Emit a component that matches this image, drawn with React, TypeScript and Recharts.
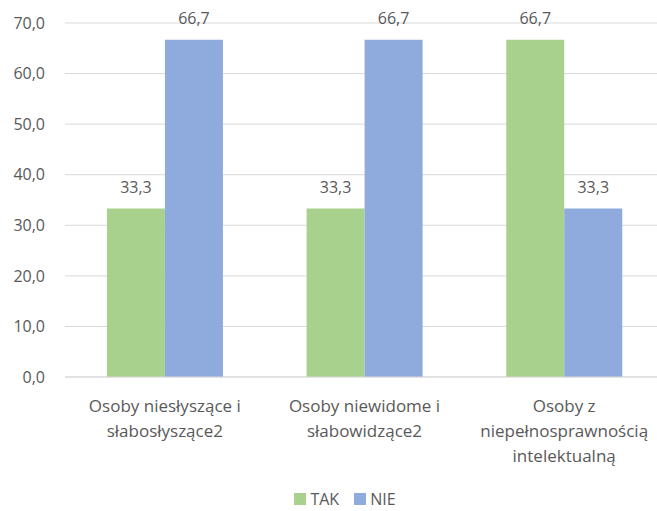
import React from "react";
import {
  BarChart,
  Bar,
  XAxis,
  YAxis,
  CartesianGrid,
  Legend,
  LabelList,
  Text,
} from "recharts";

const categories = [
  "Osoby niesłyszące i słabosłyszące2",
  "Osoby niewidome i słabowidzące2",
  "Osoby z niepełnosprawnością intelektualną",
];
const takValues = [33.3, 33.3, 66.7];
const nieValues = [66.7, 66.7, 33.3];
const yTicks = [0, 10, 20, 30, 40, 50, 60, 70];

const seriesNames = ["TAK", "NIE"];
const seriesColors = ["#a9d18e", "#8faadc"];

const data = categories.map((name, i) => ({
  name,
  TAK: takValues[i],
  NIE: nieValues[i],
}));

const FONT = "'Open Sans', 'Noto Sans', sans-serif";
const TEXT = "#595959";

const fmt = (v: number) => v.toFixed(1).replace(".", ",");

// wrapped category labels under the axis
const CategoryTick = ({ x, y, payload }: any) => (
  <Text
    x={x}
    y={y}
    width={190}
    textAnchor="middle"
    verticalAnchor="start"
    lineHeight={25}
    fill={TEXT}
    style={{ fontFamily: FONT, fontSize: 17 }}
  >
    {payload.value}
  </Text>
);

const LegendContent = () => (
  <div
    style={{
      display: "flex",
      justifyContent: "center",
      alignItems: "center",
      paddingLeft: 26,
      paddingBottom: 2,
      fontFamily: FONT,
      fontSize: 16,
      lineHeight: "20px",
      color: TEXT,
    }}
  >
    {seriesNames.map((s, i) => (
      <div key={s} style={{ display: "flex", alignItems: "center", marginRight: i === 0 ? 15 : 0 }}>
        <span
          style={{
            display: "inline-block",
            width: 12,
            height: 12,
            background: seriesColors[i],
            marginRight: 4,
          }}
        />
        <span>{s}</span>
      </div>
    ))}
  </div>
);

export default function App() {
  return (
    <div
      style={{
        position: "absolute",
        left: 0,
        top: 0,
        width: 657,
        height: 511,
        overflow: "hidden",
        background: "#fff",
      }}
    >
      <BarChart
        width={665}
        height={511}
        data={data}
        margin={{ top: 23, right: 1, left: 0, bottom: 0 }}
        barCategoryGap="21%"
        barGap={0}
      >
        <CartesianGrid vertical={false} stroke="#d9d9d9" />
        <XAxis
          dataKey="name"
          interval={0}
          tickLine={false}
          stroke="#d9d9d9"
          height={112}
          tickSize={0}
          tickMargin={23}
          tick={<CategoryTick />}
        />
        <YAxis
          width={65}
          domain={[0, 70]}
          ticks={yTicks}
          axisLine={false}
          tickLine={false}
          tickSize={0}
          tickMargin={20}
          tickFormatter={fmt}
          tick={{ fill: TEXT, fontSize: 16, fontFamily: FONT }}
        />
        <Legend
          verticalAlign="bottom"
          wrapperStyle={{ bottom: 0 }}
          content={<LegendContent />}
        />
        {seriesNames.map((s, i) => (
          <Bar key={s} dataKey={s} fill={seriesColors[i]} isAnimationActive={false}>
            <LabelList
              dataKey={s}
              position="top"
              offset={16}
              formatter={(v: any) => fmt(Number(v))}
              style={{ fill: TEXT, fontSize: 16, fontFamily: FONT }}
            />
          </Bar>
        ))}
      </BarChart>
    </div>
  );
}
